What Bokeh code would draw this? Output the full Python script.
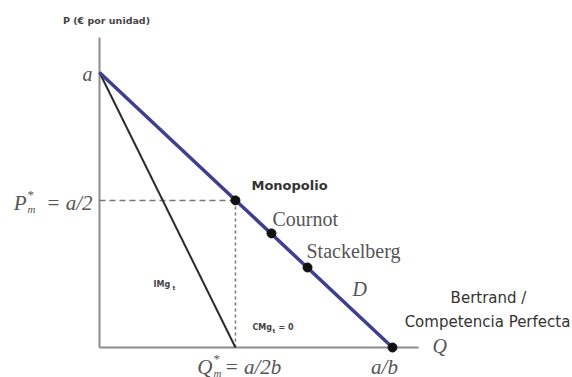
from bokeh.plotting import figure
from bokeh.models import Range1d, Label
from bokeh.embed import file_html
from bokeh.resources import INLINE

# ---- data (a = 1, b = 1) ----
demand_q = [0.0, 1.0]
demand_p = [1.0, 0.0]
mr_q = [0.0, 0.464]
mr_p = [1.0, 0.0]
eq_names = ["Monopolio", "Cournot", "Stackelberg", "Bertrand"]
eq_q = [0.464, 0.587, 0.710, 1.0]
eq_p = [0.535, 0.415, 0.291, 0.0]
axis_q_max = 1.089
axis_p_max = 1.127

W, H = 572, 377
OFF = 0  # page offset of the figure
# reference pixel geometry: Q=0 at x=99, Q=1 at x=392 ; P=0 at y=347, P=1 at y=72
SX = 293.0
SY = 275.0
x0 = -(99 - OFF) / SX
x1 = x0 + W / SX
y1 = 1 + (72 - OFF) / SY
y0 = y1 - H / SY


def X(px):
    return (px - 99) / SX


def Y(py):
    return (347 - py) / SY


p = figure(width=W, height=H, output_backend="svg", toolbar_location=None,
           x_range=Range1d(x0, x1), y_range=Range1d(y0, y1),
           min_border=0, min_border_left=0, min_border_right=0,
           min_border_top=0, min_border_bottom=0)
p.xaxis.visible = False
p.yaxis.visible = False
p.grid.visible = False
p.outline_line_color = None
p.background_fill_color = "white"
p.border_fill_color = "white"

# axes
p.segment(x0=[0, 0], y0=[0, 0], x1=[0, axis_q_max], y1=[axis_p_max, 0],
          line_color="#8c8c8c", line_width=2)

# dashed guides
p.line([0, eq_q[0]], [eq_p[0], eq_p[0]], line_color="#777777", line_width=1.5,
       line_dash="6 4")
p.line([eq_q[0], eq_q[0]], [eq_p[0], 0], line_color="#777777", line_width=1.5,
       line_dash="3 3")

# MR and demand
p.line(mr_q, mr_p, line_color="#2b2b2b", line_width=2)
p.line(demand_q, demand_p, line_color="#3f3f8f", line_width=3.5)

# equilibrium points
p.scatter(eq_q, eq_p, size=9, color="#111111")

serif = "Liberation Serif"
sans = "DejaVu Sans"


def lab(px, py, text, size, font=serif, style="normal", color="#555555",
        align="left", baseline="middle"):
    p.add_layout(Label(x=X(px), y=Y(py), text=text, text_font=font,
                       text_font_size=f"{size}px", text_font_style=style,
                       text_color=color, text_align=align,
                       text_baseline=baseline))


# axis labels
lab(106, 20, "P (€ por unidad)", 9.5, font=sans, style="bold", color="#444444",
    align="center")
lab(92, 73, "a", 20, style="italic", align="right")
lab(432, 345, "Q", 20, style="italic", align="left")

# P*_m = a/2
lab(26, 202, "P", 21, style="italic", align="right")
lab(27, 194, "*", 13, style="normal")
lab(27, 208, "m", 11, style="italic")
lab(92, 202, "= a/2", 21, style="italic", align="right")

# Q*_m = a/2b
lab(212, 366, "Q", 21, style="italic", align="right")
lab(213, 358, "*", 13, style="normal")
lab(213, 372, "m", 11, style="italic")
lab(224, 366, "= a/2b", 21, style="italic", align="left")

lab(384, 366, "a/b", 21, style="italic", align="center")

# point labels
lab(251, 185, "Monopolio", 13, font=sans, style="bold", color="#333333")
lab(272, 218, "Cournot", 20)
lab(306, 250, "Stackelberg", 20)
lab(352, 288, "D", 20, style="italic")
lab(488, 297, "Bertrand /", 15, font=sans, color="#333333", align="center")
lab(487, 321, "Competencia Perfecta", 15, font=sans, color="#333333",
    align="center")

# marginal labels
lab(153, 284, "IMg", 8, font=sans, style="bold", color="#444444")
lab(172, 287, "t", 6, font=sans, style="bold", color="#444444")
lab(252, 327, "CMg", 8, font=sans, style="bold", color="#444444")
lab(272, 330, "t", 6, font=sans, style="bold", color="#444444")
lab(278, 327, "= 0", 8, font=sans, style="bold", color="#444444")

open("out.html", "w").write(file_html(p, INLINE))
